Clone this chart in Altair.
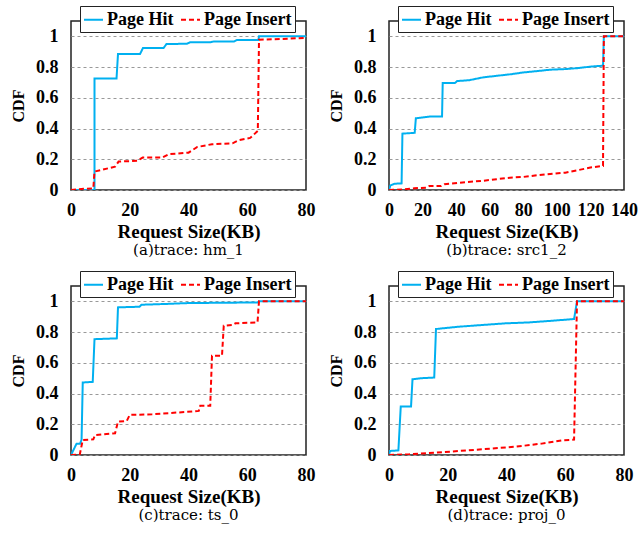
import altair as alt
import pandas as pd

SERIES = ["Page Hit", "Page Insert"]
COLORS = ["#00B0F0", "#FF0000"]

# (a) trace: hm_1
a_hit_x = [0, 8, 8, 15.5, 16, 23.5, 24.5, 31.5, 32.5, 39.5, 40.5, 47.5, 48.5, 55.5, 56.5, 63.8, 64, 80]
a_hit_y = [0, 0, 0.726, 0.726, 0.885, 0.885, 0.924, 0.924, 0.95, 0.952, 0.961, 0.962, 0.966, 0.967, 0.976, 0.976, 1.0, 1.0]
a_ins_x = [0, 3.5, 7.6, 8, 15, 16.2, 22.5, 24.4, 31, 33.3, 40, 43, 48, 55, 57, 61, 63.6, 64, 72, 80]
a_ins_y = [0, 0.007, 0.011, 0.12, 0.152, 0.185, 0.19, 0.211, 0.211, 0.233, 0.243, 0.28, 0.298, 0.304, 0.324, 0.339, 0.385, 0.978, 0.983, 0.99]

# (b) trace: src1_2
b_hit_x = [0, 0.8, 3.4, 7.5, 8, 15.3, 16, 24.3, 31.6, 32, 39.2, 40.6, 48, 56, 64, 73, 80, 90, 96, 105, 112, 121, 127.5, 128, 140]
b_hit_y = [0, 0.03, 0.041, 0.043, 0.367, 0.372, 0.467, 0.478, 0.478, 0.696, 0.696, 0.709, 0.715, 0.733, 0.743, 0.754, 0.765, 0.776, 0.783, 0.787, 0.793, 0.804, 0.809, 1.0, 1.0]
b_ins_x = [0, 8, 15, 22, 24, 31, 33, 46, 55, 64, 72, 80, 88, 96, 105, 112, 120, 127.5, 128, 140]
b_ins_y = [0, 0.004, 0.011, 0.015, 0.026, 0.026, 0.037, 0.052, 0.059, 0.07, 0.08, 0.085, 0.096, 0.104, 0.113, 0.128, 0.146, 0.157, 1.0, 1.0]

# (c) trace: ts_0
c_hit_x = [0, 1.9, 3.1, 3.6, 4, 7.4, 8, 15.6, 16, 23.3, 24, 32, 40, 63.5, 64, 80]
c_hit_y = [0, 0.074, 0.074, 0.1, 0.472, 0.476, 0.754, 0.759, 0.961, 0.965, 0.978, 0.983, 0.989, 0.993, 1.0, 1.0]
c_ins_x = [0, 3, 4, 7.6, 8.2, 15, 16, 19, 20, 27.6, 39, 43.5, 44, 47.4, 48, 51.4, 52, 55, 56, 60, 63.5, 64, 80]
c_ins_y = [0, 0.004, 0.098, 0.102, 0.13, 0.141, 0.217, 0.222, 0.261, 0.265, 0.28, 0.287, 0.32, 0.32, 0.646, 0.646, 0.841, 0.846, 0.857, 0.861, 0.863, 1.0, 1.0]

# (d) trace: proj_0
d_hit_x = [0, 0.3, 3.2, 4, 7.5, 8, 11.2, 15.4, 16, 23.7, 31.7, 39.7, 47.7, 55.6, 63, 64, 80]
d_hit_y = [0, 0.026, 0.03, 0.315, 0.315, 0.493, 0.5, 0.504, 0.82, 0.835, 0.846, 0.857, 0.863, 0.874, 0.885, 1.0, 1.0]
d_ins_x = [0, 6.6, 15.7, 31.7, 43, 52, 59, 63, 64, 80]
d_ins_y = [0, 0.004, 0.015, 0.037, 0.054, 0.074, 0.096, 0.1, 1.0, 1.0]

Y_TICKS = [0, 0.2, 0.4, 0.6, 0.8, 1]
X_TICKS_80 = [0, 20, 40, 60, 80]
X_TICKS_140 = [0, 20, 40, 60, 80, 100, 120, 140]

BOLD = "Liberation Serif"


def make_df(hx, hy, ix, iy):
    rows = []
    for i, (x, y) in enumerate(zip(hx, hy)):
        rows.append({"x": x, "cdf": y, "series": SERIES[0], "idx": i})
    for i, (x, y) in enumerate(zip(ix, iy)):
        rows.append({"x": x, "cdf": y, "series": SERIES[1], "idx": i})
    return pd.DataFrame(rows)


def legend():
    return alt.Legend(
        orient="none", legendX=9, legendY=-15, direction="horizontal", title=None,
        fillColor="white", strokeColor="#222", padding=3, cornerRadius=0,
        symbolType="stroke", symbolSize=361, symbolStrokeWidth=2,
        labelFont=BOLD, labelFontWeight="bold", labelFontSize=18, labelColor="black",
        labelOffset=3, columnPadding=3, labelLimit=200,
    )


def panel(df, xmax, xticks, caption):
    return alt.Chart(df).mark_line(strokeWidth=2, clip=True).encode(
        x=alt.X("x:Q", scale=alt.Scale(domain=[0, xmax], nice=False, zero=False),
                axis=alt.Axis(values=xticks, title="Request Size(KB)", grid=False, ticks=False,
                              domain=False, labelFlush=False, labelOverlap=False,
                              labelPadding=11, titlePadding=3)),
        y=alt.Y("cdf:Q", scale=alt.Scale(domain=[0, 1.1], nice=False),
                axis=alt.Axis(values=Y_TICKS, format="~g", title="CDF", grid=True,
                              gridDash=[3, 3], gridColor="#999", gridWidth=1, ticks=False,
                              domain=False, labelPadding=13, titlePadding=9)),
        color=alt.Color("series:N", scale=alt.Scale(domain=SERIES, range=COLORS), legend=legend()),
        strokeDash=alt.StrokeDash("series:N", scale=alt.Scale(domain=SERIES, range=[[1, 0], [5, 3]]),
                                  legend=legend()),
        order=alt.Order("idx:Q"),
    ).properties(
        width=235, height=169,
        title=alt.TitleParams(caption, orient="bottom", font="DejaVu Serif", fontSize=15,
                              fontWeight="normal", color="black", offset=2),
    )


pa = panel(make_df(a_hit_x, a_hit_y, a_ins_x, a_ins_y), 80, X_TICKS_80, "(a)trace: hm_1")
pb = panel(make_df(b_hit_x, b_hit_y, b_ins_x, b_ins_y), 140, X_TICKS_140, "(b)trace: src1_2")
pc = panel(make_df(c_hit_x, c_hit_y, c_ins_x, c_ins_y), 80, X_TICKS_80, "(c)trace: ts_0")
pd_ = panel(make_df(d_hit_x, d_hit_y, d_ins_x, d_ins_y), 80, X_TICKS_80, "(d)trace: proj_0")

res = dict(x="independent", color="independent", strokeDash="independent")
row1 = alt.hconcat(pa, pb, spacing=11).resolve_scale(**res).resolve_legend(color="independent", strokeDash="independent")
row2 = alt.hconcat(pc, pd_, spacing=11).resolve_scale(**res).resolve_legend(color="independent", strokeDash="independent")

chart = alt.vconcat(row1, row2, spacing=10).resolve_scale(**res).resolve_legend(
    color="independent", strokeDash="independent"
).configure_view(
    stroke="#222", strokeWidth=1.5
).configure_axis(
    labelFont=BOLD, labelFontWeight="bold", labelFontSize=18, labelColor="black",
    titleFont=BOLD, titleFontWeight="bold", titleFontSize=19, titleColor="black",
).configure_axisY(
    titleFontSize=16
).properties(
    padding={"left": 9, "top": 4, "right": 0, "bottom": 2}, background="white"
)

chart.save("out.html", embed_options={"renderer": "svg", "actions": False})
